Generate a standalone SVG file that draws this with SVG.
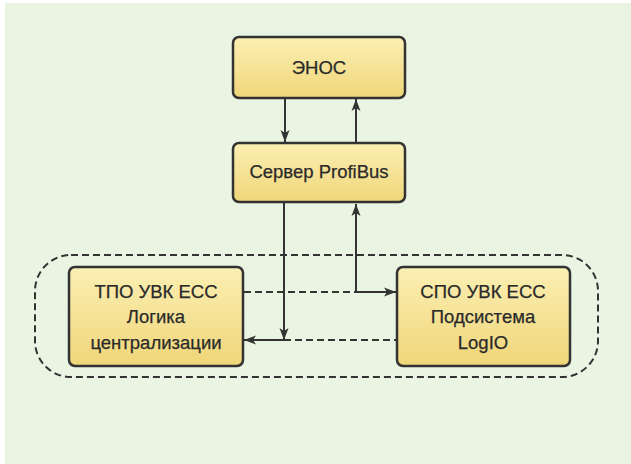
<svg xmlns="http://www.w3.org/2000/svg" width="631" height="464" viewBox="0 0 631 464">
<defs>
<linearGradient id="g" x1="0" y1="0" x2="0" y2="1">
<stop offset="0" stop-color="#fbefb3"/>
<stop offset="1" stop-color="#f0d679"/>
</linearGradient>
<marker id="a" viewBox="0 0 12 10" refX="12" refY="5" markerWidth="12" markerHeight="10" markerUnits="userSpaceOnUse" orient="auto">
<path d="M0,0.5 L12,5 L0,9.5 L3,5 Z" fill="#333"/>
</marker>
<style>
.box{fill:url(#g);stroke:#333;stroke-width:2.5}
.t{font-family:"Liberation Sans",Arial,sans-serif;font-size:18.5px;fill:#2a2a2a;stroke:#2a2a2a;stroke-width:0.25;text-anchor:middle}
.s{stroke:#333;stroke-width:2;fill:none}
.d{stroke:#333;stroke-width:2;fill:none;stroke-dasharray:7,4}
</style>
</defs>
<rect x="0" y="0" width="631" height="464" fill="#ffffff"/>
<rect x="5" y="3" width="626" height="461" fill="#e9f4e3"/>
<rect x="35" y="255" width="563" height="122" rx="36" ry="36" class="d"/>
<g id="connectors">
<line x1="285" y1="99" x2="285" y2="142" class="s" marker-end="url(#a)"/>
<line x1="356" y1="142" x2="356" y2="99" class="s" marker-end="url(#a)"/>
<line x1="356" y1="292" x2="356" y2="204" class="s" marker-end="url(#a)"/>
<line x1="356" y1="292" x2="396" y2="292" class="s" marker-end="url(#a)"/>
<line x1="244" y1="292" x2="356" y2="292" class="d"/>
<line x1="284" y1="203" x2="284" y2="340" class="s" marker-end="url(#a)"/>
<line x1="284" y1="340" x2="244" y2="340" class="s" marker-end="url(#a)"/>
<line x1="284" y1="340" x2="397" y2="340" class="d"/>
</g>
<g id="enos">
<rect x="233" y="37" width="172" height="61" rx="6" class="box"/>
<text x="319" y="74" class="t">ЭНОС</text>
</g>
<g id="server">
<rect x="233" y="143" width="172" height="59" rx="6" class="box"/>
<text x="319" y="178" class="t">Сервер ProfiBus</text>
</g>
<g id="tpo">
<rect x="69" y="267" width="174" height="99" rx="6" class="box"/>
<text x="156" y="298" class="t">ТПО УВК ЕСС</text>
<text x="156" y="323" class="t">Логика</text>
<text x="156" y="349" class="t">централизации</text>
</g>
<g id="spo">
<rect x="397" y="267" width="173" height="99" rx="6" class="box"/>
<text x="483" y="298" class="t">СПО УВК ЕСС</text>
<text x="483" y="323" class="t">Подсистема</text>
<text x="483" y="349" class="t">LogIO</text>
</g>
</svg>
